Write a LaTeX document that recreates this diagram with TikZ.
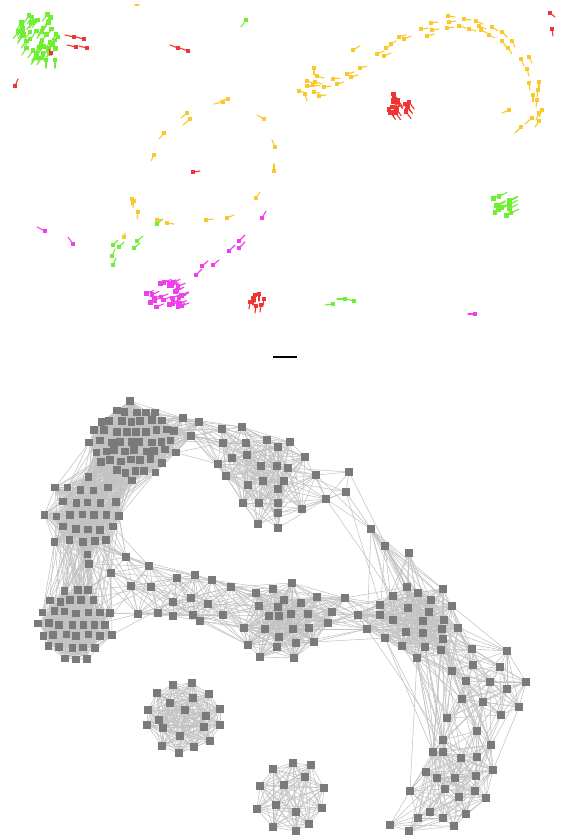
\documentclass[tikz,border=0pt]{standalone}
\usetikzlibrary{backgrounds}
\definecolor{grn}{RGB}{112,238,52}
\definecolor{rd}{RGB}{240,52,52}
\definecolor{yel}{RGB}{250,200,42}
\definecolor{mag}{RGB}{240,62,238}
\definecolor{vgray}{RGB}{122,122,122}
\definecolor{lgray}{RGB}{194,194,194}
\tikzset{
  vtx/.style={rectangle,fill=vgray,minimum size=7.6pt,inner sep=0pt},
  lnk/.style={draw=lgray,line width=.55pt},
  phead/.style={rectangle,minimum size=4.6pt,inner sep=0pt},
  ptail/.style={line width=1.1pt,line cap=round}}
\newcount\vcnt
% one vertex of the network, its position kept for the distance test
\newcommand\putvtx[4]{%
  \node[vtx] (#1#2) at (#3,#4) {};
  \expandafter\xdef\csname X#1#2\endcsname{#3}%
  \expandafter\xdef\csname Y#1#2\endcsname{#4}}
% cluster on a jittered grid inside an ellipse
\newcommand\gridclus[7]{%
  \global\vcnt=0
  \pgfmathtruncatemacro\ku{floor(#4/#6)}%
  \pgfmathtruncatemacro\kv{floor(#5/#6)}%
  \foreach \a in {-\ku,...,\ku}{%
    \foreach \b in {-\kv,...,\kv}{%
      \pgfmathtruncatemacro\inside{(\a*\a*#6*#6/(#4*#4)+\b*\b*#6*#6/(#5*#5))<=1}%
      \ifnum\inside=1
        \global\advance\vcnt by 1
        \pgfmathsetmacro\px{#2+\a*#6+(mod(\b+100,2)-.5)*#6/2+#7*rand}%
        \pgfmathsetmacro\py{#3+\b*#6+#7*rand}%
        \edef\idx{\the\vcnt}%
        \putvtx{#1}{\idx}{\px}{\py}%
      \fi}}%
  \expandafter\xdef\csname n#1\endcsname{\the\vcnt}}
% cluster from a list of positions
\newcommand\listclus[2]{%
  \foreach \x/\y [count=\k] in {#2}{%
    \putvtx{#1}{\k}{\x}{\y}%
    \expandafter\xdef\csname n#1\endcsname{\k}}}
\newcommand\linktest[6]{%
  \edef\xa{\csname X#1#2\endcsname}\edef\ya{\csname Y#1#2\endcsname}%
  \edef\xb{\csname X#3#4\endcsname}\edef\yb{\csname Y#3#4\endcsname}%
  \pgfmathtruncatemacro\ok{and(rnd<#5,veclen((\xa-\xb)/10,(\ya-\yb)/10)<#6/10)}%
  \ifnum\ok=1 \draw[lnk] (#1#2) -- (#3#4);\fi}
\newcommand\linkin[3]{%
  \edef\nn{\csname n#1\endcsname}%
  \foreach \i in {1,...,\nn}{%
    \foreach \j in {\i,...,\nn}{%
      \ifnum\j>\i\relax \linktest{#1}{\i}{#1}{\j}{#2}{#3}\fi}}}
\newcommand\linkbetween[4]{%
  \edef\nn{\csname n#1\endcsname}\edef\mm{\csname n#2\endcsname}%
  \foreach \i in {1,...,\nn}{%
    \foreach \j in {1,...,\mm}{\linktest{#1}{\i}{#2}{\j}{#3}{#4}}}}
% pins of the upper panel
\newcommand\pins[2]{%
  \foreach \x/\y/\u/\v in {#2}{%
    \draw[ptail,#1] (\x,\y) -- ++(\u,\v);
    \node[phead,fill=#1] at (\x,\y) {};}}
\newcommand\pinblob[8]{%
  \foreach \k in {1,...,#2}{%
    \pgfmathsetmacro\rr{sqrt(rnd)}\pgfmathsetmacro\ang{360*rnd}%
    \pgfmathsetmacro\px{#3+#5*\rr*cos(\ang)}%
    \pgfmathsetmacro\py{#4+#6*\rr*sin(\ang)}%
    \draw[ptail,#1] (\px,\py) -- ++(#7,#8);
    \node[phead,fill=#1] at (\px,\py) {};}}

\begin{document}
\begin{tikzpicture}[x=1pt,y=-1pt]
  \pgfmathsetseed{2024}
  \useasboundingbox (0,0) rectangle (561,837);

  % upper panel
  \pinblob{grn}{46}{40}{35}{22}{23}{-5}{7}
  \pins{grn}{46/60/0/8, 55/60/0/8, 246/20/-5/7, 113/245/5/-5, 119/247/5/-5,
    112/256/3/-7, 113/265/3/-7, 137/241/6/-5, 134/248/6/-5, 157/224/6/-5,
    333/304/-8/1, 345/299/-8/0, 354/301/-8/-2}
  \pinblob{grn}{14}{503}{205}{13}{11}{8}{-4}
  \pins{rd}{74/37/-9/-2, 84/39/-8/-2, 76/47/-9/-2, 87/48/-8/-2, 51/53/-2/-4,
    15/86/3/-7, 178/48/-8/-3, 188/51/-8/-3, 550/13/5/4, 552/29/1/7, 193/172/7/-1,
    255/295/0/7, 259/294/0/7, 264/299/-1/7, 250/302/-1/7, 256/306/-1/7,
    261/305/-1/7, 253/298/0/7}
  \pinblob{rd}{16}{398}{104}{13}{13}{5}{7}
  \pins{mag}{45/231/-8/-4, 73/244/-5/-7, 262/218/4/-7, 239/241/6/-6,
    239/248/6/-6, 229/251/6/-6, 202/266/6/-5, 213/265/6/-5, 196/275/6/-6,
    475/314/-7/0}
  \pinblob{mag}{30}{168}{295}{22}{16}{7}{-3}
  \draw[ptail,yel] (135,5) -- (139,5);
  \pins{yel}{448/16/7/1, 464/19/7/1, 476/21/7/3, 449/22/7/-1, 431/23/7/-1,
    421/29/7/-1, 432/30/7/-1, 447/28/7/-1, 459/26/7/2, 469/29/7/2, 479/26/7/3,
    481/30/6/3, 492/27/6/4, 502/32/5/5, 489/35/6/3, 427/36/7/-2, 399/37/7/-2,
    404/39/7/-3, 391/44/5/-3, 386/48/6/-3, 353/50/7/-4, 377/54/7/-3,
    384/56/7/-3, 502/41/4/6, 512/41/3/6, 508/48/4/6, 521/59/3/7, 529/57/3/6,
    527/69/2/7, 529/83/1/7, 539/82/0/7, 538/90/-1/7, 533/95/0/7, 537/100/-1/7,
    542/110/-3/7, 539/113/-3/7, 539/121/-4/6, 532/118/-7/6, 521/127/-6/6,
    509/110/-7/3, 314/68/0/7, 317/76/7/2, 307/81/6/2, 315/82/7/2, 307/86/7/0,
    313/85/7/1, 324/87/7/-1, 299/91/7/2, 305/94/2/7, 314/92/6/1, 319/96/7/-1,
    333/79/7/-1, 337/84/7/-2, 347/74/7/-2, 351/77/7/-2, 360/68/7/-2,
    228/99/-8/2, 223/102/-9/2, 187/113/-6/5, 190/119/-7/6, 164/133/-5/6,
    154/155/-3/6, 264/119/-7/-4, 275/147/-3/-7, 274/171/0/-7, 256/198/4/-6,
    132/199/0/6, 134/201/-1/7, 138/212/-1/7, 167/223/7/1, 157/220/5/0,
    206/220/7/-1, 227/218/7/-3, 124/237/1/-4}

  % separator
  \draw[line width=1.1pt] (273,357) -- (297,357);

  % lower panel: the network
  \gridclus{A}{133}{441}{45}{40}{10}{1.8}
  \gridclus{B}{85}{515}{40}{40}{13}{2}
  \gridclus{C}{74}{624}{40}{38}{11.4}{1.4}
  \listclus{D}{183/418, 199/422, 191/436, 222/429, 242/427, 267/440, 246/443,
    223/443, 232/458, 218/464, 226/476, 247/455, 261/466, 248/485, 263/481,
    243/503, 259/503, 258/524, 278/447, 290/442, 305/457, 277/466, 288/468,
    284/481, 278/489, 278/503, 278/513, 302/509, 278/528}
  \listclus{c}{316/475, 349/472, 346/492, 326/499, 371/529, 385/546, 409/553}
  \listclus{E}{126/557, 149/566, 111/573, 89/564, 177/578, 195/575, 212/580,
    131/586, 151/587, 231/587, 173/602, 191/598, 208/604, 138/614, 158/613,
    173/616, 193/615, 200/621, 223/615}
  \listclus{F}{292/583, 273/589, 256/593, 317/597, 345/598, 284/600, 301/603,
    278/607, 259/606, 332/612, 269/616, 279/616, 291/614, 308/614, 328/623,
    244/628, 265/629, 293/629, 309/628, 279/637, 248/645, 277/647, 296/643,
    314/642, 260/657, 294/658}
  \listclus{G}{407/587, 418/593, 393/596, 443/589, 431/600, 408/608, 452/606,
    429/612, 393/620, 444/620, 423/621, 458/628, 442/629, 406/632, 423/633,
    385/638, 443/639, 402/646, 425/647, 441/650, 417/658, 358/615, 367/629,
    380/605, 380/615}
  \listclus{H}{472/649, 507/651, 473/665, 452/671, 500/667, 466/681, 490/682,
    526/682, 507/689, 462/699, 483/702, 519/707, 501/715, 447/718}
  \listclus{I}{477/731, 443/740, 491/745, 433/752, 443/752, 461/758, 477/757,
    493/770, 426/772, 437/778, 455/778, 476/776, 445/789, 410/791, 459/797,
    475/791, 486/798, 430/812, 418/818, 443/818, 466/814, 390/825, 409/831,
    454/826}
  \listclus{J}{173/685, 192/683, 157/693, 209/694, 193/698, 170/703, 148/710,
    185/710, 220/709, 206/716, 159/720, 147/725, 163/728, 204/727, 220/725,
    180/736, 210/741, 162/746, 194/747, 179/753}
  \listclus{K}{293/763, 311/765, 273/769, 305/777, 260/786, 284/785, 324/788,
    276/805, 296/812, 322/808, 257/809, 309/824, 273/827, 296/831}

  \begin{pgfonlayer}{background}
    \linkin{A}{.85}{85}
    \linkin{B}{.85}{90}
    \linkbetween{A}{B}{.6}{70}
    \linkin{C}{.75}{90}
    \linkbetween{B}{C}{.3}{90}
    \linkbetween{E}{C}{.12}{75}
    \linkin{D}{.85}{70}
    \linkbetween{A}{D}{.6}{60}
    \linkin{c}{.8}{80}
    \linkbetween{c}{D}{.6}{65}
    \linkbetween{c}{G}{.4}{130}
    \linkbetween{B}{E}{.5}{70}
    \linkin{E}{.8}{75}
    \linkbetween{E}{F}{.55}{75}
    \linkin{F}{.9}{80}
    \linkbetween{F}{G}{.55}{75}
    \linkin{G}{.9}{80}
    \linkbetween{G}{H}{.5}{75}
    \linkin{H}{.8}{70}
    \linkbetween{H}{I}{.5}{75}
    \linkbetween{G}{I}{.3}{135}
    \linkin{I}{.8}{70}
    \linkin{J}{1}{100}
    \linkin{K}{1}{100}
  \end{pgfonlayer}
\end{tikzpicture}
\end{document}
